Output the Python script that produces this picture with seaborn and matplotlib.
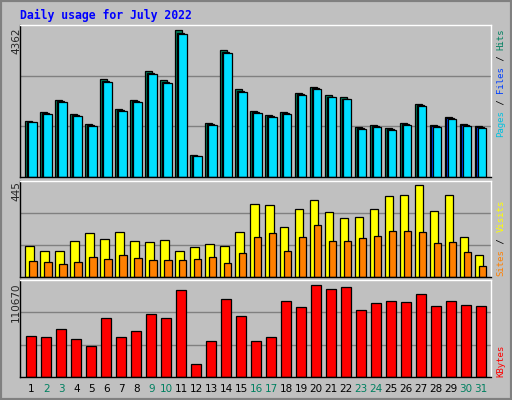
import matplotlib
matplotlib.use("Agg")
import matplotlib.pyplot as plt
import seaborn as sns
import numpy as np
import pandas as pd
from matplotlib.transforms import blended_transform_factory
from matplotlib.patches import Rectangle

days = list(range(1, 32))
hits = [1666,1933,2280,1864,1566,2905,2013,2280,3153,2875,4362,644,1596,3767,2607,1963,
        1834,1933,2498,2677,2429,2369,1477,1537,1447,1596,2161,1537,1775,1566,1507]
files = [h*0.985 for h in hits]
pages = [h*0.975 for h in hits]
visits = [150,126,126,174,212,183,217,174,169,178,126,145,159,150,217,352,347,241,328,371,313,284,289,328,390,395,445,318,395,193,104]
sites = [77,72,63,72,96,87,106,92,82,82,82,87,96,67,116,193,212,125,193,251,173,173,188,198,222,222,217,164,169,120,53]
kbytes = [48870,47660,57350,45240,36760,70690,47660,54930,75540,70690,104620,16160,43620,93310,73110,43620,
          48470,91290,84030,110670,105820,108240,80380,88860,91290,90080,99770,85650,91290,86460,85250]
max_labels = ["4362", "445", "110670"]
weekend = {2,3,9,10,16,17,23,24,30,31}

sns.set_style("white")
plt.rcParams['font.family'] = ['DejaVu Sans']
BG = "#C0C0C0"
fig = plt.figure(figsize=(5.12, 4.0), dpi=100, facecolor=BG)

def axpos(top, bot):
    return [20/512, 1-bot/400, 471/512, (bot-top)/400]

ax1 = fig.add_axes(axpos(25, 177))
ax2 = fig.add_axes(axpos(181, 277))
ax3 = fig.add_axes(axpos(280, 377))
x = np.arange(31)
ek = dict(edgecolor="black", linewidth=0.9)
ax1.bar(x-0.165, hits, width=0.47, color="#00805C", **ek)
ax1.bar(x-0.05, files, width=0.5, color="#0040FF", **ek)
ax1.bar(x+0.08, pages, width=0.56, color="#00E0FF", **ek)
ax2.bar(x-0.12, visits, width=0.56, color="#FFFF00", **ek)
ax2.bar(x+0.11, sites, width=0.49, color="#FF8000", **ek)
df = pd.DataFrame({"day": [str(d) for d in days], "kb": kbytes})
sns.barplot(data=df, x="day", y="kb", ax=ax3, color="#FF0000", width=0.66,
            saturation=1, edgecolor="black", linewidth=0.9)

for ax, m, h, ph in [(ax1, 4362, 152, 146.7), (ax2, 445, 96, 92.3), (ax3, 110670, 96, 91.4)]:
    top = m*h/ph
    ax.set_ylim(0, top)
    ax.set_xlim(-0.753, 30.67)
    ax.set_facecolor(BG)
    for f in (1/3, 2/3):
        ax.axhline(top*f, color="#808080", lw=1, zorder=0)
    ax.set_xticks([]); ax.set_yticks([])
    ax.set_xlabel(""); ax.set_ylabel("")
    for s in ("left", "bottom"):
        ax.spines[s].set_color("black")
    for s in ("top", "right"):
        ax.spines[s].set_color("white")
    for sp in ax.spines.values():
        sp.set_linewidth(1)
    ax.set_axisbelow(True)

tr = blended_transform_factory(ax3.transData, fig.transFigure)
for i, d in enumerate(days):
    ax3.text(i, 1-389/400, str(d), transform=tr, ha="center", va="center", fontsize=7.5,
             color="#008060" if d in weekend else "black")

fig.text(20/512, 1-15/400, "Daily usage for July 2022", fontfamily="DejaVu Sans Mono",
         fontweight="bold", color="#0000FF", fontsize=8.3, va="center", ha="left")

for lab, top in zip(max_labels, [27, 181, 282]):
    fig.text(16/512, 1-top/400, lab, rotation=90, ha="center", va="top", fontsize=7.5)

def stacked(bottom_px, parts, cw=5.45):
    y = bottom_px
    for txt, col in parts:
        fig.text(501/512, 1-y/400, txt, rotation=90, ha="center", va="bottom",
                 fontsize=6.5, fontfamily="DejaVu Sans Mono", color=col)
        y -= cw*len(txt)

stacked(137, [("Pages", "#00C0E0"), (" / ", "black"), ("Files", "#0040FF"), (" / ", "black"), ("Hits", "#008060")])
stacked(276, [("Sites", "#FF8000"), (" / ", "black"), ("Visits", "#FFFF00")])
stacked(377, [("KBytes", "#FF0000")])

fig.patches.append(Rectangle((0, 0), 1, 1, transform=fig.transFigure, fill=False,
                             edgecolor="#808080", lw=3, figure=fig))
fig.savefig("out.png", dpi=100, facecolor=BG)
